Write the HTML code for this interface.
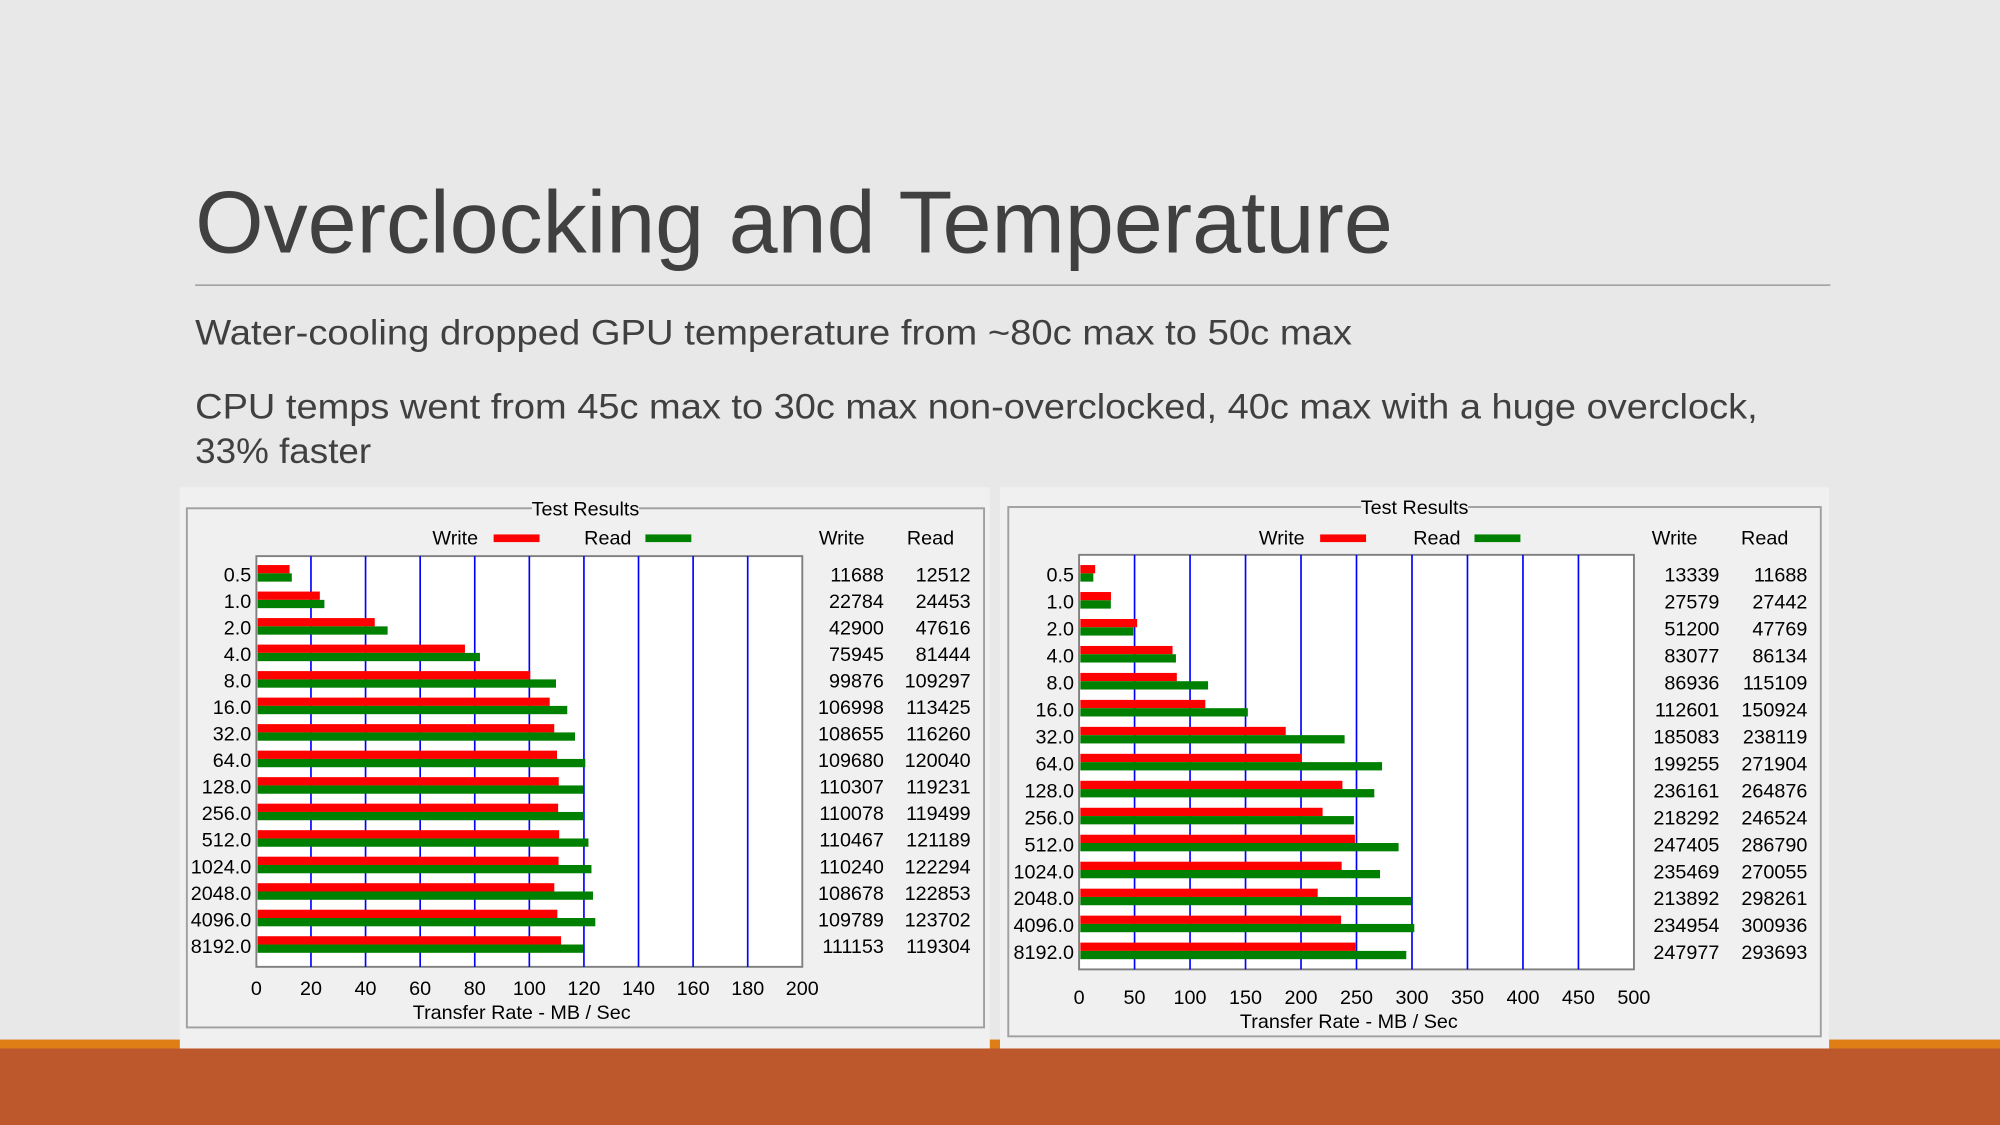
<!DOCTYPE html>
<html><head><meta charset="utf-8"><style>
html,body{margin:0;padding:0;background:#E8E8E8;}
svg{display:block;}
.t{font-family:"Liberation Sans",Arial,sans-serif;}
.c{font-family:"Liberation Sans",Arial,sans-serif;font-size:15.5px;fill:#000;}
</style></head><body>
<svg id="root" width="2000" height="1125" viewBox="0 0 1568 882" xmlns="http://www.w3.org/2000/svg">
<rect x="0" y="0" width="1568" height="882" fill="#E8E8E8"/>
<text class="t" x="153" y="198" font-size="69" fill="#404040" textLength="939" lengthAdjust="spacingAndGlyphs">Overclocking and Temperature</text>
<line x1="153" y1="223.5" x2="1435" y2="223.5" stroke="#8C8C8C" stroke-width="1"/>
<text class="t" x="153" y="270" font-size="27.5" fill="#404040" textLength="907" lengthAdjust="spacingAndGlyphs">Water-cooling dropped GPU temperature from ~80c max to 50c max</text>
<text class="t" x="153" y="328" font-size="27.5" fill="#404040" textLength="1225" lengthAdjust="spacingAndGlyphs">CPU temps went from 45c max to 30c max non-overclocked, 40c max with a  huge overclock,</text>
<text class="t" x="153" y="363" font-size="27.5" fill="#404040" textLength="138" lengthAdjust="spacingAndGlyphs">33% faster</text>
<rect x="0" y="815" width="1568" height="7" fill="#E07E16"/>
<rect x="0" y="822" width="1568" height="60" fill="#BC582B"/>
<g id="chartL"></g>
<g id="chartR"></g>
</svg>
<script>
const categories = ["0.5","1.0","2.0","4.0","8.0","16.0","32.0","64.0","128.0","256.0","512.0","1024.0","2048.0","4096.0","8192.0"];
const leftWrite = [11688,22784,42900,75945,99876,106998,108655,109680,110307,110078,110467,110240,108678,109789,111153];
const leftRead = [12512,24453,47616,81444,109297,113425,116260,120040,119231,119499,121189,122294,122853,123702,119304];
const rightWrite = [13339,27579,51200,83077,86936,112601,185083,199255,236161,218292,247405,235469,213892,234954,247977];
const rightRead = [11688,27442,47769,86134,115109,150924,238119,271904,264876,246524,286790,270055,298261,300936,293693];
const leftTicks = [0,20,40,60,80,100,120,140,160,180,200];
const rightTicks = [0,50,100,150,200,250,300,350,400,450,500];
const NS="http://www.w3.org/2000/svg";
function mk(parent,tag,attrs,text){const e=document.createElementNS(NS,tag);for(const k in attrs)e.setAttribute(k,attrs[k]);if(text!==undefined)e.textContent=text;parent.appendChild(e);return e;}
function draw(g,cfg,write,read,ticks){
  const xs=v=>cfg.px0+(v/1000)/ticks[ticks.length-1]*(cfg.px1-cfg.px0);
  const ys=i=>cfg.y0+i*(cfg.y1-cfg.y0)/(categories.length-1);
  let e;
  e=mk(g,'rect',{x:cfg.ox,y:382,width:cfg.ow,height:440,fill:'#F0F0F0'});
  
  
  e=mk(g,'rect',{x:cfg.bx+0.5,y:cfg.by+0.5,width:cfg.bw,height:cfg.bh,fill:'none',stroke:'#A0A0A0','stroke-width':1.5});
  
  
  e=mk(g,'rect',{x:cfg.cx-42,y:cfg.by-8,width:84,height:16,fill:'#F0F0F0'});
  
  
  e=mk(g,'text',{class:'c',x:cfg.cx,y:cfg.by+6,'text-anchor':'middle'},'Test Results');
  
  
  e=mk(g,'text',{class:'c',x:cfg.lw,y:427},'Write');
  
  
  e=mk(g,'rect',{x:cfg.lw+48,y:419,width:36,height:6,fill:'#FF0000'});
  
  
  e=mk(g,'text',{class:'c',x:cfg.lr,y:427},'Read');
  
  
  e=mk(g,'rect',{x:cfg.lr+48,y:419,width:36,height:6,fill:'#008000'});
  
  
  e=mk(g,'text',{class:'c',x:cfg.hw,y:427},'Write');
  
  
  e=mk(g,'text',{class:'c',x:cfg.hr,y:427},'Read');
  
  
  e=mk(g,'rect',{x:cfg.px0,y:cfg.pt,width:cfg.px1-cfg.px0,height:cfg.pb-cfg.pt,fill:'#FFFFFF',stroke:'#808080','stroke-width':1.5});
  
  
  ticks.forEach((t,i)=>{
    const x=xs(t*1000);
    if(i>0&&i<ticks.length-1){
      e=mk(g,'line',{x1:x,y1:cfg.pt,x2:x,y2:cfg.pb,stroke:'#0000FF','stroke-width':1.3});
      
      
    }
    e=mk(g,'text',{class:'c',x:x,y:cfg.tickY,'text-anchor':'middle'},String(t));
    
    
  });
  e=mk(g,'text',{class:'c',x:(cfg.px0+cfg.px1)/2-6,y:cfg.tickY+19,'text-anchor':'middle'},'Transfer Rate - MB / Sec');
  
  
  categories.forEach((c,i)=>{
    const y=ys(i);
    e=mk(g,'rect',{x:cfg.px0+1,y:y-7,width:xs(write[i])-cfg.px0,height:6.5,fill:'#FF0000'});
    
    
    e=mk(g,'rect',{x:cfg.px0+1,y:y-0.5,width:xs(read[i])-cfg.px0,height:6.5,fill:'#008000'});
    
    
    e=mk(g,'text',{class:'c',x:cfg.px0-4,y:y+6,'text-anchor':'end'},c);
    
    
    e=mk(g,'text',{class:'c',x:cfg.vw,y:y+6,'text-anchor':'end'},String(write[i]));
    
    
    e=mk(g,'text',{class:'c',x:cfg.vr,y:y+6,'text-anchor':'end'},String(read[i]));
    
    
  });
}
draw(document.getElementById('chartL'),{ox:141,ow:635,bx:146,by:398,bw:625,bh:407,cx:459,lw:339,lr:458,hw:642,hr:711,vw:693,vr:761,px0:201,px1:629,pt:436,pb:758,y0:450,y1:741,tickY:780},leftWrite,leftRead,leftTicks);
draw(document.getElementById('chartR'),{ox:784,ow:650,bx:790,by:397,bw:637,bh:415,cx:1109,lw:987,lr:1108,hw:1295,hr:1365,vw:1348,vr:1417,px0:846,px1:1281,pt:435,pb:760,y0:450,y1:746,tickY:787},rightWrite,rightRead,rightTicks);
</script>
</body></html>
